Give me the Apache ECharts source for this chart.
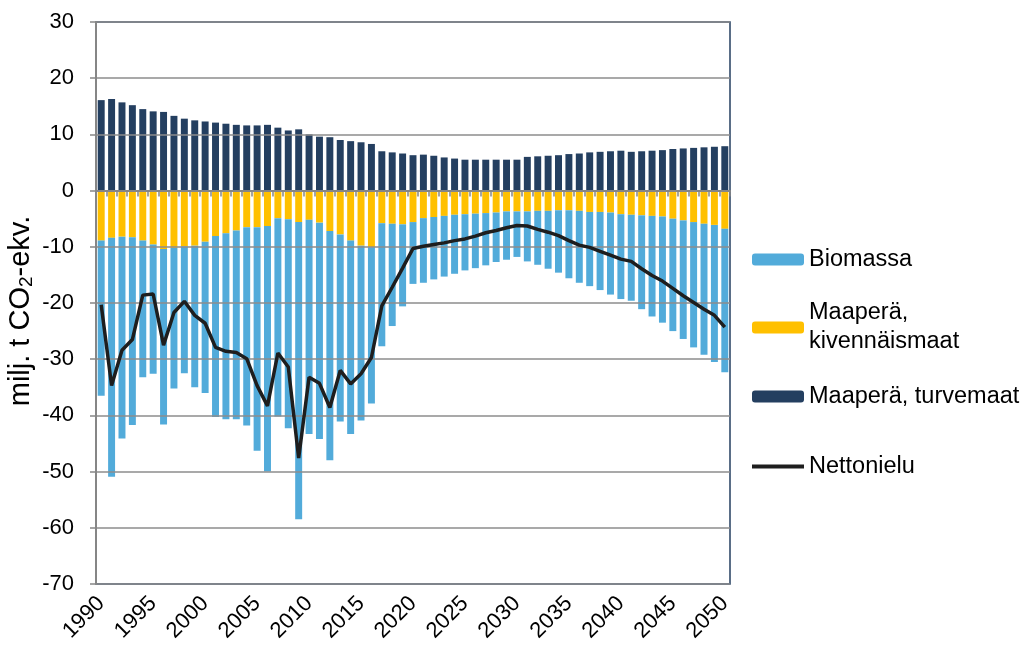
<!DOCTYPE html>
<html>
<head>
<meta charset="utf-8">
<script src="https://cdn.jsdelivr.net/npm/echarts@6/dist/echarts.min.js"></script>
<style>
  html, body { margin: 0; padding: 0; background: #fff; }
  #chart { width: 1027px; height: 651px; }
</style>
</head>
<body>
<div id="chart"></div>
<script>
// vuodet 1990-2050
let years = [];
for (let y = 1990; y <= 2050; y++) years.push(String(y));

// Maaperä, turvemaat (positiivinen)
let turvemaat = [16.1, 16.3, 15.7, 15.2, 14.5, 14.1, 14.0, 13.3, 12.8, 12.5,
  12.3, 12.1, 11.9, 11.7, 11.6, 11.6, 11.7, 11.2, 10.7, 10.9,
  10.0, 9.6, 9.5, 9.0, 8.8, 8.6, 8.3, 7.0, 6.8, 6.6,
  6.3, 6.4, 6.2, 5.9, 5.7, 5.5, 5.5, 5.5, 5.5, 5.5,
  5.5, 6.0, 6.1, 6.2, 6.3, 6.5, 6.6, 6.8, 6.9, 7.0,
  7.1, 6.9, 7.0, 7.1, 7.2, 7.4, 7.5, 7.6, 7.7, 7.8, 7.9];

// Maaperä, kivennäismaat
let kivennaismaat = [-8.9, -8.4, -8.2, -8.3, -8.9, -9.6, -10.4, -10.2, -9.9, -9.8,
  -9.1, -8.1, -7.6, -7.1, -6.5, -6.5, -6.3, -4.9, -5.1, -5.6,
  -5.2, -5.7, -7.2, -7.8, -8.9, -9.8, -10.1, -5.8, -5.9, -6.0,
  -5.6, -4.9, -4.7, -4.5, -4.3, -4.2, -4.1, -4.0, -3.9, -3.7,
  -3.7, -3.7, -3.6, -3.6, -3.5, -3.5, -3.6, -3.8, -3.8, -3.9,
  -4.2, -4.3, -4.4, -4.5, -4.6, -5.0, -5.3, -5.6, -5.9, -6.1, -6.8];

// Biomassa
let biomassa = [-27.6, -42.5, -35.9, -33.4, -24.3, -23.0, -31.2, -25.0, -22.6, -25.2,
  -26.9, -32.2, -33.1, -33.6, -35.3, -39.8, -43.7, -35.3, -37.2, -52.9,
  -38.1, -38.5, -40.8, -33.3, -34.4, -31.1, -27.8, -21.9, -18.2, -14.6,
  -11.0, -11.5, -11.1, -10.8, -10.5, -10.0, -9.7, -9.3, -8.8, -8.6,
  -8.1, -8.9, -9.6, -10.3, -11.1, -12.1, -12.8, -13.2, -13.9, -14.6,
  -15.1, -15.3, -16.7, -17.9, -18.9, -20.0, -21.1, -22.3, -23.3, -24.4, -25.5];

// Nettonielu
let nettonielu = [-20.3, -34.7, -28.4, -26.5, -18.6, -18.4, -27.5, -21.7, -19.7, -22.2,
  -23.6, -27.9, -28.6, -28.8, -29.9, -34.7, -38.3, -28.9, -31.4, -47.6,
  -33.2, -34.3, -38.6, -32.0, -34.4, -32.6, -29.7, -20.5, -17.2, -13.8,
  -10.3, -9.9, -9.6, -9.3, -8.9, -8.6, -8.1, -7.5, -7.1, -6.6,
  -6.2, -6.3, -6.9, -7.4, -8.0, -8.9, -9.7, -10.1, -10.8, -11.5,
  -12.2, -12.6, -13.9, -15.1, -16.1, -17.4, -18.7, -19.9, -21.1, -22.2, -24.3];

let font = 'Liberation Sans, Arial, sans-serif';

let chart = echarts.init(document.getElementById('chart'));

function legendAt(item, top, extra) {
  return Object.assign({
    data: [item],
    orient: 'vertical',
    left: 752,
    top: top,
    padding: 0,
    itemWidth: 52,
    itemHeight: 12,
    selectedMode: false,
    textStyle: { fontFamily: font, fontSize: 23.5, color: '#000', lineHeight: 29 }
  }, extra || {});
}

let option = {
  animation: false,
  textStyle: { fontFamily: font },
  grid: {
    left: 96, right: 297, top: 22, bottom: 67,
    outerBoundsMode: 'none',
    containLabel: false,
    show: true,
    borderColor: '#243F60',
    borderWidth: 1.5
  },
  legend: [
    legendAt('Biomassa', 245),
    legendAt('Maaperä, kivennäismaat', 284, {
      formatter: function () { return 'Maaperä,\nkivennäismaat'; },
      textStyle: { fontFamily: font, fontSize: 23.5, color: '#000', lineHeight: 29, padding: [29, 0, 0, 0] }
    }),
    legendAt('Maaperä, turvemaat', 382),
    legendAt({ name: 'Nettonielu', icon: 'rect' }, 452, { itemHeight: 4 })
  ],
  xAxis: [
    {
      type: 'category',
      data: years,
      z: 5,
      axisLine: { onZero: true, lineStyle: { color: '#868686', width: 2 } },
      axisTick: { show: true, interval: 0, length: 6, lineStyle: { color: '#868686', width: 1.5 } },
      axisLabel: { show: false },
      splitLine: { show: false }
    },
    {
      type: 'category',
      data: years,
      position: 'bottom',
      axisLine: { show: false, onZero: false },
      axisTick: { show: false },
      axisLabel: {
        interval: 4,
        rotate: 45,
        margin: 16,
        fontSize: 22,
        color: '#000',
        fontFamily: font
      }
    }
  ],
  yAxis: {
    type: 'value',
    min: -70,
    max: 30,
    interval: 10,
    z: 5,
    name: '{a|milj. t CO}{s|2}{a|-ekv.}',
    nameLocation: 'middle',
    nameGap: 60,
    nameMoveOverlap: false,
    nameTextStyle: {
      padding: [0, 16, 0, 0],
      rich: {
        a: { fontFamily: font, fontSize: 29, color: '#000' },
        s: { fontFamily: font, fontSize: 19, color: '#000', padding: [12, 0, 0, 0] }
      }
    },
    axisLine: { show: true, lineStyle: { color: '#868686', width: 2 } },
    axisTick: { show: true, length: 6, lineStyle: { color: '#868686', width: 1.5 } },
    axisLabel: { fontSize: 22, color: '#000', margin: 22, fontFamily: font },
    splitLine: { lineStyle: { color: '#8C8C8C', width: 1.5 } }
  },
  series: [
    {
      name: 'Maaperä, kivennäismaat',
      type: 'bar',
      stack: 'total',
      barCategoryGap: '33%',
      itemStyle: { color: '#FFC000' },
      data: kivennaismaat
    },
    {
      name: 'Biomassa',
      type: 'bar',
      stack: 'total',
      barCategoryGap: '33%',
      itemStyle: { color: '#52ABDA' },
      data: biomassa
    },
    {
      name: 'Maaperä, turvemaat',
      type: 'bar',
      stack: 'total',
      barCategoryGap: '33%',
      itemStyle: { color: '#243F60' },
      data: turvemaat
    },
    {
      name: 'Nettonielu',
      type: 'line',
      z: 6,
      symbol: 'none',
      lineStyle: { color: '#1E1E1E', width: 3.5 },
      itemStyle: { color: '#1E1E1E' },
      data: nettonielu
    }
  ]
};

chart.setOption(option);
</script>
</body>
</html>
